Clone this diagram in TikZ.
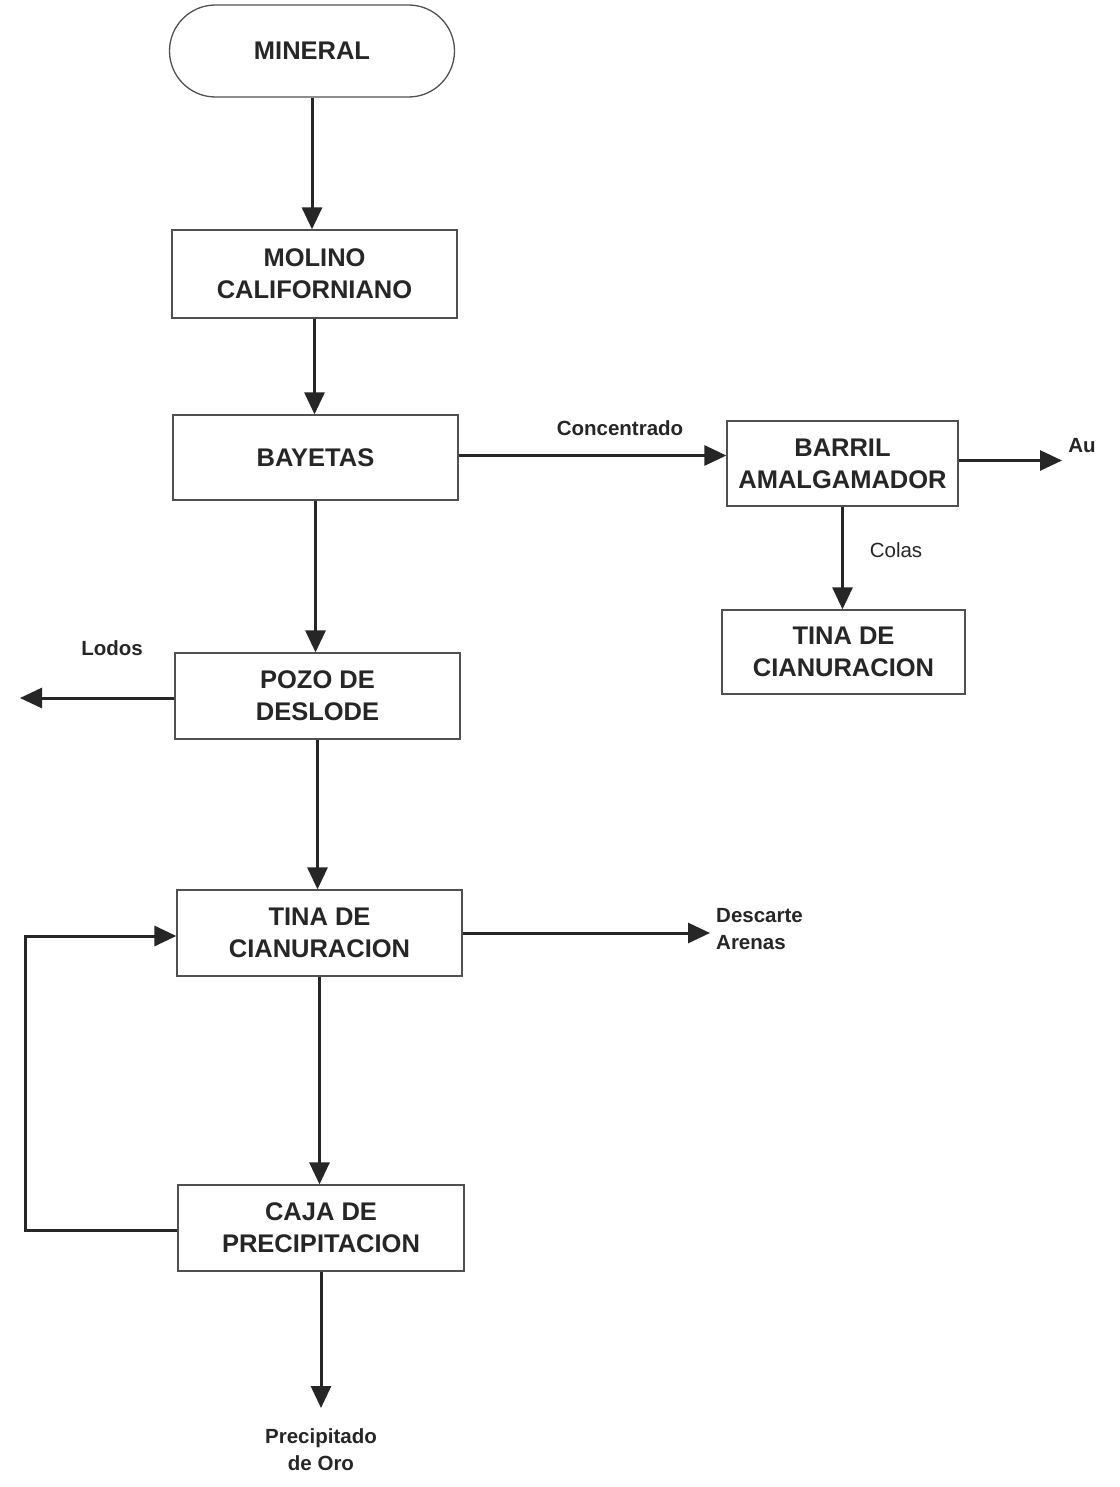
\documentclass[tikz,border=0pt]{standalone}
\usepackage{fontspec}
\setmainfont{Liberation Sans}
\usetikzlibrary{arrows.meta}
\definecolor{ink}{HTML}{262626}
\definecolor{frame}{HTML}{505050}
\tikzset{
  box/.style={draw=frame, line width=1.3pt, rectangle, minimum width=285pt, minimum height=86pt,
    align=center, inner sep=0pt, text=ink, font=\fontsize{25.5}{32}\selectfont\bfseries},
  flow/.style={draw=ink, line width=3pt, -{Triangle[length=22pt,width=20pt]}},
  lab/.style={text=ink, inner sep=0pt, font=\fontsize{20.5}{27}\selectfont\bfseries},
  labr/.style={text=ink, inner sep=0pt, font=\fontsize{20.5}{27}\selectfont},
}
\begin{document}
\begin{tikzpicture}[x=1pt,y=-1pt]
\useasboundingbox (0,0) rectangle (1119,1487);
\fill[white] (0,0) rectangle (1119,1487);

\node[box, rounded corners=46pt, minimum height=92pt] (mineral) at (312,51) {MINERAL};
\node[box, minimum height=88pt] (molino) at (314.5,274) {MOLINO\\CALIFORNIANO};
\node[box, minimum height=85pt] (bayetas) at (315.5,457.5) {BAYETAS};
\node[box, minimum width=231pt, minimum height=85pt] (barril) at (842.5,463.5) {BARRIL\\AMALGAMADOR};
\node[box, minimum width=243pt, minimum height=84pt] (tinab) at (843.5,652) {TINA DE\\CIANURACION};
\node[box] (pozo) at (317.5,696) {POZO DE\\DESLODE};
\node[box] (tina) at (319.5,933) {TINA DE\\CIANURACION};
\node[box, minimum width=286pt] (caja) at (321,1228) {CAJA DE\\PRECIPITACION};

\coordinate (au) at (1062,460);
\coordinate (lodos) at (20,698);
\coordinate (desc) at (710,933);
\coordinate (loop) at (25,1230);
\coordinate (prec) at (322,1408);

\draw[flow] (mineral.south) -- (mineral.south |- molino.north);
\draw[flow] (molino.south) -- (molino.south |- bayetas.north);
\draw[flow] (bayetas.south) -- (bayetas.south |- pozo.north);
\draw[flow] (pozo.south) -- (pozo.south |- tina.north);
\draw[flow] (tina.south) -- (tina.south |- caja.north);
\draw[flow] (caja.south) -- (caja.south |- prec);
\draw[flow] ([yshift=2pt]bayetas.east) -- ([yshift=2pt]bayetas.east -| barril.west);
\draw[flow] ([yshift=3pt]barril.east) -- ([yshift=3pt]barril.east -| au);
\draw[flow] (barril.south) -- (barril.south |- tinab.north);
\draw[flow] ([yshift=-2pt]pozo.west) -- ([yshift=-2pt]pozo.west -| lodos);
\draw[flow] (tina.east) -- (tina.east -| desc);
\draw[flow] ([yshift=-2pt]caja.west) -- ([yshift=-2pt]caja.west -| loop) |- ([yshift=-3pt]tina.west);

\node[lab] (lconc) at (620,428) {Concentrado};
\node[lab] (lau) at (1082,446) {Au};
\node[labr] (lcolas) at (896,550) {Colas};
\node[lab] (llodos) at (112,648) {Lodos};
\node[lab, align=left, anchor=west] (ldesc) at (716,929) {Descarte\\Arenas};
\node[lab, align=center] (lprec) at (321,1450) {Precipitado\\de Oro};
\end{tikzpicture}
\end{document}
